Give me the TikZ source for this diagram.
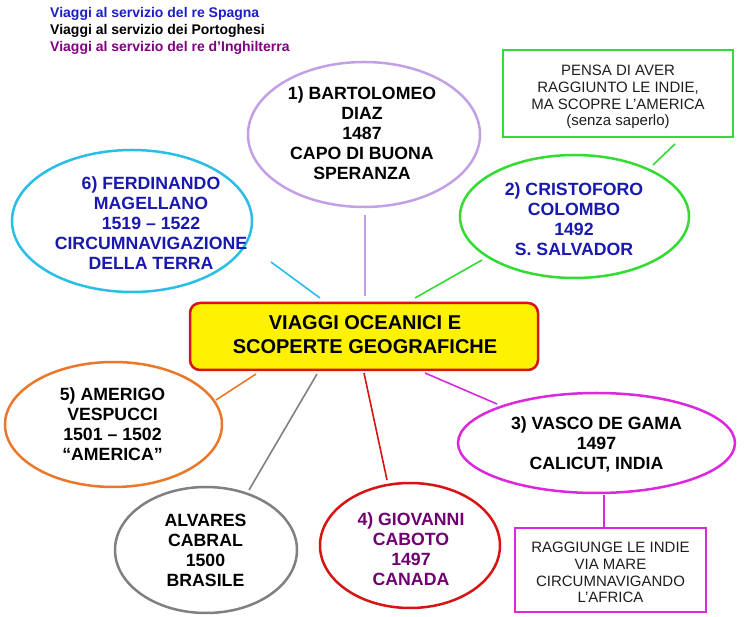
\documentclass[tikz,border=0pt]{standalone}
\usepackage{fontspec}
\setmainfont{Liberation Sans}
\usetikzlibrary{shapes.geometric}
\definecolor{legblue}{RGB}{30,30,200}
\definecolor{txtblue}{RGB}{25,25,175}
\definecolor{legpurple}{RGB}{128,0,128}
\definecolor{txtpurple}{RGB}{112,0,112}
\definecolor{lavc}{RGB}{195,160,230}
\definecolor{cyanc}{RGB}{40,190,230}
\definecolor{greenc}{RGB}{50,220,50}
\definecolor{orangec}{RGB}{235,120,40}
\definecolor{magc}{RGB}{220,40,220}
\definecolor{redc}{RGB}{215,20,20}
\definecolor{grayc}{RGB}{128,128,128}
\definecolor{notetxt}{RGB}{30,30,30}
\begin{document}
\begin{tikzpicture}[x=1pt,y=-1pt,
  ell/.style={ellipse, line width=2.5pt, inner sep=0pt},
  etxt/.style={align=center, inner sep=0pt, font=\fontsize{17.7}{20}\selectfont\bfseries},
  notebox/.style={rectangle, line width=2.5pt, inner sep=0pt},
  notetext/.style={align=center, inner sep=0pt, text=notetxt, font=\fontsize{15}{16.7}\selectfont},
  legtxt/.style={anchor=base west, inner sep=0pt, font=\fontsize{14}{16}\selectfont\bfseries},
  conn/.style={line width=1.6pt}
]
\useasboundingbox[fill=white] (0,0) rectangle (756,617);

% legend
\node[legtxt, text=legblue] (leg1) at (50,18) {Viaggi al servizio del re Spagna};
\node[legtxt, text=black] (leg2) at (50,35) {Viaggi al servizio dei Portoghesi};
\node[legtxt, text=legpurple] (leg3) at (50,52) {Viaggi al servizio del re d’Inghilterra};

% hub
\node[rectangle, rounded corners=10pt, fill=yellow, draw=redc, line width=2.5pt,
      minimum width=348, minimum height=67, inner sep=0pt] (hub) at (364,336.5) {};
\node[align=center, inner sep=0pt, font=\fontsize{20}{24}\selectfont\bfseries] (hubt) at (365,335)
  {VIAGGI OCEANICI E\\SCOPERTE GEOGRAFICHE};

% ellipses
\node[ell, draw=lavc, minimum width=232, minimum height=145] (diaz) at (364,134.5) {};
\node[etxt] (diazt) at (362,133) {1) BARTOLOMEO\\DIAZ\\1487\\CAPO DI BUONA\\SPERANZA};

\node[ell, draw=cyanc, minimum width=240, minimum height=142] (mag) at (132,221) {};
\node[etxt, text=txtblue] (magt) at (151,223) {6) FERDINANDO\\MAGELLANO\\1519 – 1522\\CIRCUMNAVIGAZIONE\\DELLA TERRA};

\node[ell, draw=greenc, minimum width=229, minimum height=123] (col) at (574.5,216.5) {};
\node[etxt, text=txtblue] (colt) at (574,219.5) {2) CRISTOFORO\\COLOMBO\\1492\\S. SALVADOR};

\node[ell, draw=orangec, minimum width=217, minimum height=125] (ves) at (113.5,424.5) {};
\node[etxt] (vest) at (112.5,424.5) {5) AMERIGO\\VESPUCCI\\1501 – 1502\\“AMERICA”};

\node[ell, draw=magc, minimum width=277, minimum height=100] (vas) at (596.5,443) {};
\node[etxt] (vast) at (596.5,444) {3) VASCO DE GAMA\\1497\\CALICUT, INDIA};

\node[ell, draw=redc, minimum width=180, minimum height=125] (cab) at (410,545.5) {};
\node[etxt, text=txtpurple] (cabt) at (411,549) {4) GIOVANNI\\CABOTO\\1497\\CANADA};

\node[ell, draw=grayc, minimum width=182, minimum height=126] (cbr) at (206,550) {};
\node[etxt] (cbrt) at (205.5,550.5) {ALVARES\\CABRAL\\1500\\BRASILE};

% note boxes
\node[notebox, draw=greenc, minimum width=230, minimum height=87] (note1) at (618,93.5) {};
\node[notetext] (note1t) at (618,97)
  {PENSA DI AVER\\RAGGIUNTO LE INDIE,\\MA SCOPRE L’AMERICA\\(senza saperlo)};
\node[notebox, draw=magc, minimum width=191, minimum height=84] (note2) at (610.5,570) {};
\node[notetext] (note2t) at (610.5,572.5)
  {RAGGIUNGE LE INDIE\\VIA MARE\\CIRCUMNAVIGANDO\\L’AFRICA};

% connector end points
\coordinate (h1) at (365,296); \coordinate (e1) at (365,215);
\coordinate (h6) at (320,298); \coordinate (e6) at (271,262);
\coordinate (h2) at (415,298); \coordinate (e2) at (482,260);
\coordinate (h5) at (256,374); \coordinate (e5) at (216,400);
\coordinate (hc) at (317,374); \coordinate (ec) at (249,490);
\coordinate (h4) at (364,373); \coordinate (e4) at (387,480);
\coordinate (h3) at (425,373); \coordinate (e3) at (497,404);
\coordinate (n1a) at (653,165); \coordinate (n1b) at (675,144);
\coordinate (n2a) at (604,495);

\draw[conn, lavc] (h1) -- (e1);
\draw[conn, cyanc] (h6) -- (e6);
\draw[conn, greenc] (h2) -- (e2);
\draw[conn, orangec] (h5) -- (e5);
\draw[conn, grayc] (hc) -- (ec);
\draw[conn, redc] (h4) -- (e4);
\draw[conn, magc] (h3) -- (e3);
\draw[conn, greenc] (n1a) -- (n1b);
\draw[conn, magc] (n2a) -- (n2a |- note2.north);
\end{tikzpicture}
\end{document}
